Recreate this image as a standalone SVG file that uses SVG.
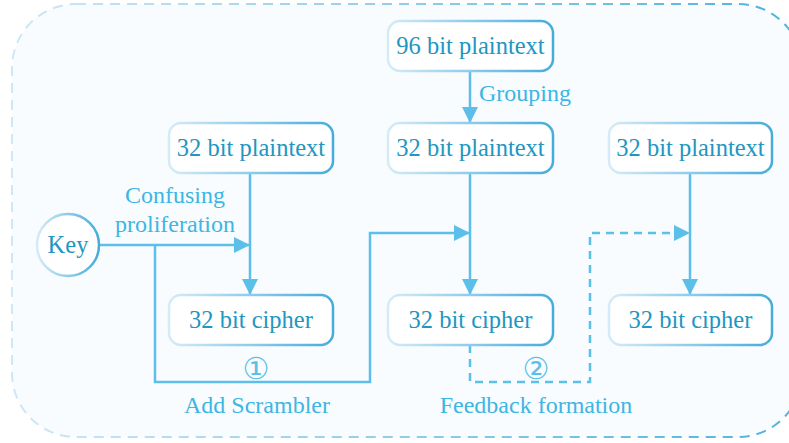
<svg xmlns="http://www.w3.org/2000/svg" width="789" height="443" viewBox="0 0 789 443">
  <defs>
    <linearGradient id="boxStroke" x1="0" y1="0" x2="1" y2="0">
      <stop offset="0" stop-color="#d6ebf8"/>
      <stop offset="1" stop-color="#45acdb"/>
    </linearGradient>
    <linearGradient id="frameStroke" x1="0" y1="0" x2="1" y2="0">
      <stop offset="0" stop-color="#cfe7f6"/>
      <stop offset="1" stop-color="#4fb2de"/>
    </linearGradient>
    <marker id="arrow" viewBox="0 0 16 16" refX="16" refY="8" markerWidth="16" markerHeight="16" markerUnits="userSpaceOnUse" orient="auto">
      <path d="M0,0 L16,8 L0,16 Z" fill="#5bbfe9"/>
    </marker>
    <style>
      .node rect, .node circle { fill: #ffffff; stroke: url(#boxStroke); stroke-width: 2.5; }
      .node text { font-family: "Liberation Serif", serif; font-size: 24.5px; fill: #2296c2; text-anchor: middle; }
      .wire { fill: none; stroke: #5bbfe9; stroke-width: 2.5; }
      .dashed { stroke-dasharray: 8 6; }
      .label { font-family: "Liberation Serif", serif; font-size: 24px; fill: #3cb6e4; }
      .num { font-family: "DejaVu Sans", sans-serif; font-size: 30px; fill: #5bbfe9; text-anchor: middle; }
    </style>
  </defs>

  <rect width="789" height="443" fill="#ffffff"/>
  <!-- outer dashed frame -->
  <rect x="12" y="4" width="790" height="433" rx="64" ry="64" fill="#f9fcfe" stroke="url(#frameStroke)" stroke-width="2" stroke-dasharray="10 7"/>

  <!-- connectors -->
  <g id="connectors">
    <path class="wire" d="M470,71 V123" marker-end="url(#arrow)"/>
    <path class="wire" d="M250,173 V295" marker-end="url(#arrow)"/>
    <path class="wire" d="M100,245 H250" marker-end="url(#arrow)"/>
    <path class="wire" d="M155,245 V382 H370 V233 H470" marker-end="url(#arrow)"/>
    <path class="wire" d="M470,173 V295" marker-end="url(#arrow)"/>
    <path class="wire dashed" d="M470,345 V382 H590 V233 H690" marker-end="url(#arrow)"/>
    <path class="wire" d="M690,173 V295" marker-end="url(#arrow)"/>
  </g>

  <!-- edge labels -->
  <g id="labels">
    <text class="label" x="479" y="101">Grouping</text>
    <text class="label" x="175" y="203" text-anchor="middle">Confusing</text>
    <text class="label" x="175" y="232" text-anchor="middle">proliferation</text>
    <text class="num" x="256" y="379">①</text>
    <text class="label" x="257" y="413" text-anchor="middle">Add Scrambler</text>
    <text class="num" x="536" y="379">②</text>
    <text class="label" x="536" y="413" text-anchor="middle">Feedback formation</text>
  </g>

  <!-- nodes -->
  <g id="key" class="node">
    <circle cx="68" cy="245" r="31"/>
    <text x="68" y="253">Key</text>
  </g>
  <g id="plain96" class="node">
    <rect x="388" y="21" width="165" height="50" rx="12"/>
    <text x="470.5" y="54">96 bit plaintext</text>
  </g>
  <g id="plain32a" class="node">
    <rect x="169" y="123" width="164" height="50" rx="12"/>
    <text x="251" y="156">32 bit plaintext</text>
  </g>
  <g id="plain32b" class="node">
    <rect x="388" y="123" width="165" height="50" rx="12"/>
    <text x="470.5" y="156">32 bit plaintext</text>
  </g>
  <g id="plain32c" class="node">
    <rect x="609" y="123" width="163" height="50" rx="12"/>
    <text x="690.5" y="156">32 bit plaintext</text>
  </g>
  <g id="cipherA" class="node">
    <rect x="169" y="295" width="164" height="50" rx="12"/>
    <text x="251" y="328">32 bit cipher</text>
  </g>
  <g id="cipherB" class="node">
    <rect x="388" y="295" width="165" height="50" rx="12"/>
    <text x="470.5" y="328">32 bit cipher</text>
  </g>
  <g id="cipherC" class="node">
    <rect x="609" y="295" width="163" height="50" rx="12"/>
    <text x="690.5" y="328">32 bit cipher</text>
  </g>
</svg>
